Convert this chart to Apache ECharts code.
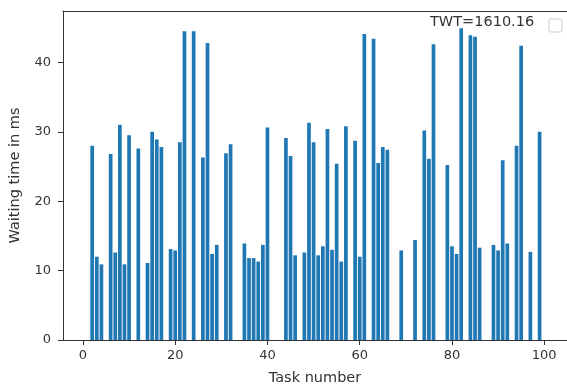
<!DOCTYPE html>
<html lang="en">
<head>
    <meta charset="UTF-8">
    <title>Waiting time per task</title>
    <style>
        *{ padding:0; margin:0; }
    </style>
    <script type="text/javascript" src="https://cdn.jsdelivr.net/npm/echarts@6/dist/echarts.min.js"></script>
</head>
<body>
    <div id="main" style="width:567px;height:391px;"></div>
    <script type="text/javascript">
    var myChart = echarts.init(document.getElementById('main'));

    // task numbers that have a bar
    var tasks = [2, 3, 4, 6, 7, 8, 9, 10, 12, 14, 15, 16, 17, 19, 20, 21, 22, 24, 26, 27,
        28, 29, 31, 32, 35, 36, 37, 38, 39, 40, 44, 45, 46, 48, 49, 50, 51, 52, 53, 54,
        55, 56, 57, 59, 60, 61, 63, 64, 65, 66, 69, 72, 74, 75, 76, 79, 80, 81, 82, 84,
        85, 86, 89, 90, 91, 92, 94, 95, 97, 99];
    // waiting time in ms
    var waits = [28.0, 12.0, 10.9, 26.8, 12.6, 31.0, 10.9, 29.5, 27.6, 11.1, 30.0, 28.9, 27.8, 13.1, 12.9, 28.5, 44.5, 44.5, 26.3, 42.8,
        12.4, 13.7, 26.9, 28.2, 13.9, 11.8, 11.8, 11.3, 13.7, 30.6, 29.1, 26.5, 12.2, 12.6, 31.3, 28.5, 12.2, 13.5, 30.4, 13.0,
        25.4, 11.3, 30.8, 28.7, 12.0, 44.1, 43.4, 25.5, 27.8, 27.4, 12.9, 14.4, 30.2, 26.1, 42.6, 25.2, 13.5, 12.4, 44.9, 43.9,
        43.7, 13.3, 13.7, 12.9, 25.9, 13.9, 28.0, 42.4, 12.7, 30.0];
    var xTicks = [0, 20, 40, 60, 80, 100];
    var legendText = 'TWT=1610.16';

    var barData = tasks.map(function(t, i) {
        return [t, waits[i]];
    });

    var font = 'DejaVu Sans';
    var xMin = -4.33, xMax = 104.94;

    var option = {
        animation: false,
        grid: {
            left: 63,
            right: 0,
            top: 11,
            bottom: 50
        },
        xAxis: [{
            type: 'value',
            position: 'bottom',
            min: xMin,
            max: xMax,
            name: 'Task number',
            nameLocation: 'middle',
            nameGap: 31,
            nameTextStyle: { color: '#333', fontSize: 14.5, fontFamily: font },
            splitLine: { show: false },
            axisLine: { show: true, onZero: false, lineStyle: { color: '#333', width: 1 } },
            axisTick: {
                length: 5,
                customValues: xTicks,
                lineStyle: { color: '#333' }
            },
            axisLabel: {
                customValues: xTicks,
                color: '#333',
                fontSize: 13,
                fontFamily: font,
                margin: 9
            }
        }, {
            // top spine only
            type: 'value',
            position: 'top',
            min: xMin,
            max: xMax,
            splitLine: { show: false },
            axisLine: { show: true, onZero: false, lineStyle: { color: '#333' } },
            axisTick: { show: false },
            axisLabel: { show: false }
        }],
        yAxis: {
            type: 'value',
            position: 'left',
            min: 0,
            max: 47.4,
            interval: 10,
            name: 'Waiting time in ms',
            nameLocation: 'middle',
            nameGap: 40,
            nameTextStyle: { color: '#333', fontSize: 14.5, fontFamily: font },
            splitLine: { show: false },
            axisLine: { show: true, onZero: false, lineStyle: { color: '#333' } },
            axisTick: { show: true, length: 5, lineStyle: { color: '#333' } },
            axisLabel: {
                color: '#333',
                fontSize: 13,
                fontFamily: font,
                margin: 12,
                showMaxLabel: false
            }
        },
        graphic: [{
            type: 'text',
            x: 430,
            y: 22,
            style: {
                text: legendText,
                fill: '#333',
                font: '14.5px "DejaVu Sans"',
                verticalAlign: 'middle'
            }
        }, {
            type: 'rect',
            shape: { x: 549, y: 19, width: 13, height: 13, r: 2 },
            style: { fill: '#fff', stroke: '#ccc', lineWidth: 1 }
        }],
        series: [{
            type: 'bar',
            data: barData,
            barWidth: 3.7,
            itemStyle: { color: '#1f77b4' }
        }]
    };

    myChart.setOption(option);
    </script>
</body>
</html>
